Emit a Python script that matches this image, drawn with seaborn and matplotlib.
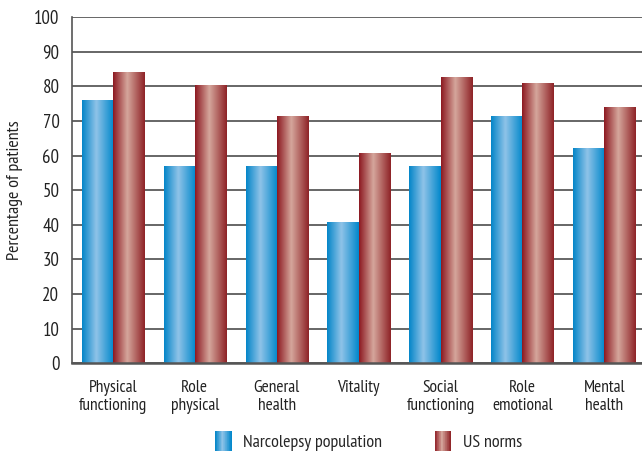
import numpy as np
import pandas as pd
import matplotlib
matplotlib.use("Agg")
import matplotlib.pyplot as plt
import seaborn as sns
from matplotlib.colors import LinearSegmentedColormap
from matplotlib.legend_handler import HandlerBase
from matplotlib.patches import Rectangle

# SF-36 domain scores
categories = ["Physical\nfunctioning", "Role\nphysical", "General\nhealth", "Vitality",
              "Social\nfunctioning", "Role\nemotional", "Mental\nhealth"]
narcolepsy = [76.0, 57.0, 57.0, 40.8, 57.0, 71.4, 62.2]
us_norms = [84.1, 80.3, 71.6, 60.7, 82.7, 80.9, 74.0]
series_names = ["Narcolepsy population", "US norms"]
y_ticks = [0, 10, 20, 30, 40, 50, 60, 70, 80, 90, 100]

sns.set_theme(style="white")
plt.rcParams["font.family"] = ["PT Sans Narrow", "DejaVu Sans"]

df = pd.DataFrame({
    "category": categories * 2,
    "value": narcolepsy + us_norms,
    "series": [series_names[0]] * len(categories) + [series_names[1]] * len(categories),
})

blue_cmap = LinearSegmentedColormap.from_list(
    "blue_bar", [(0.0, "#0385c8"), (0.45, "#8fc3e8"), (1.0, "#0087cb")])
red_cmap = LinearSegmentedColormap.from_list(
    "red_bar", [(0.0, "#8c1820"), (0.45, "#d5a69c"), (1.0, "#8e2226")])
cmaps = {series_names[0]: blue_cmap, series_names[1]: red_cmap}

fig = plt.figure(figsize=(6.42, 4.54), dpi=100)
ax = fig.add_axes([0.112, 0.2, 0.888, 0.762])

sns.barplot(data=df, x="category", y="value", hue="series", order=categories,
            hue_order=series_names, palette=["#0087cb", "#8e2226"], width=0.76,
            gap=0, ax=ax, legend=False, zorder=3)

# Fill each bar with a horizontal shading gradient
grad = np.linspace(0, 1, 256).reshape(1, -1)
n = len(categories)
for i, patch in enumerate(ax.patches[:2 * n]):
    name = series_names[i // n]
    x0, y0 = patch.get_x(), patch.get_y()
    w, h = patch.get_width(), patch.get_height()
    im = ax.imshow(grad, cmap=cmaps[name], aspect="auto",
                   extent=[x0, x0 + w, y0, y0 + h], zorder=4, interpolation="bilinear")
    im.set_clip_path(patch)
    patch.set_edgecolor("none")

ax.set_xlim(-0.5, 6.46)
ax.set_ylim(0, 100)
ax.set_yticks(y_ticks)
ax.set_yticklabels([str(t) for t in y_ticks], fontsize=13.5, color="#222222")
ax.tick_params(axis="y", length=0, pad=9)
ax.tick_params(axis="x", length=0, pad=12, labelsize=12.5, labelcolor="#222222")
for lbl in ax.get_xticklabels():
    lbl.set_linespacing(1.2)
ax.set_xlabel("")
ax.set_ylabel("Percentage of patients", fontsize=13, color="#222222", labelpad=8)

ax.grid(axis="y", color="#5a5a5a", linewidth=1.3, zorder=0)
ax.set_axisbelow(True)
for s in ["top", "right"]:
    ax.spines[s].set_visible(False)
ax.spines["left"].set_color("#555555")
ax.spines["left"].set_linewidth(1.2)
ax.spines["bottom"].set_color("#555555")
ax.spines["bottom"].set_linewidth(1.8)
ax.spines["bottom"].set_zorder(5)


class GradientHandler(HandlerBase):
    def __init__(self, cmap):
        super().__init__()
        self.cmap = cmap

    def create_artists(self, legend, orig_handle, xdescent, ydescent, width, height,
                       fontsize, trans):
        strips = []
        k = 24
        for j in range(k):
            r = Rectangle((-xdescent + width * j / k, -ydescent - 1.5), width / k + 0.3,
                          height + 3, facecolor=self.cmap((j + 0.5) / k),
                          edgecolor="none", transform=trans)
            strips.append(r)
        return strips


handles = [Rectangle((0, 0), 1, 1), Rectangle((0, 0), 1, 1)]
fig.legend(handles, series_names, loc="lower center", bbox_to_anchor=(0.574, -0.03),
           ncol=2, frameon=False, fontsize=13, handlelength=0.9, handleheight=1.0,
           handletextpad=0.65, columnspacing=2.9,
           handler_map={handles[0]: GradientHandler(blue_cmap),
                        handles[1]: GradientHandler(red_cmap)})

fig.savefig("out.png", dpi=100)
